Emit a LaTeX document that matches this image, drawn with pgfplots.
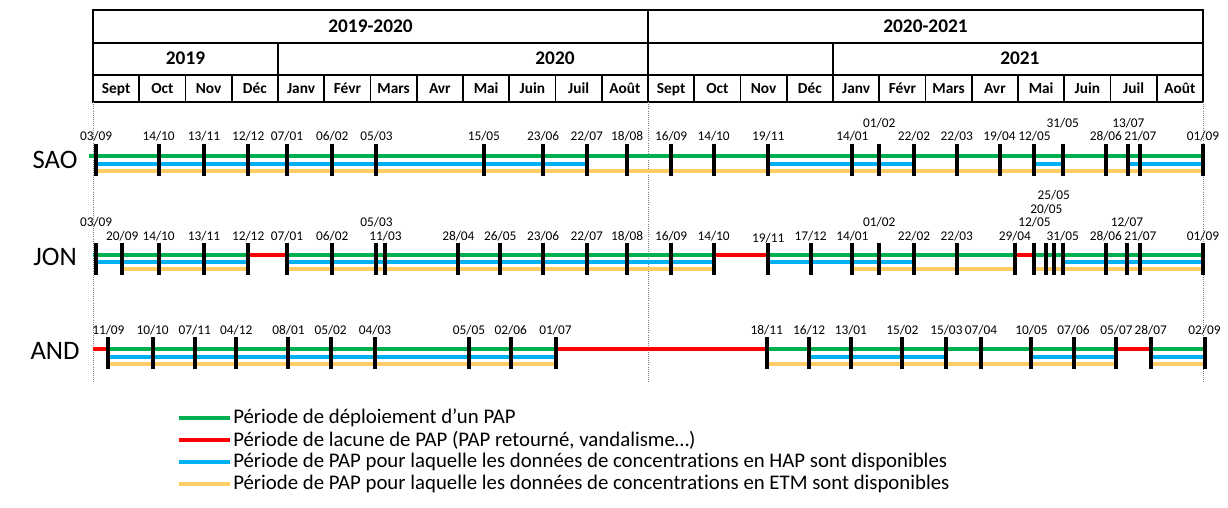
\documentclass[border=0pt]{standalone}
\usepackage{pgfplots}
\usepackage{pgfplotstable}
\pgfplotsset{compat=1.18}
\usepackage{fontspec}
\setmainfont[Ligatures=NoCommon]{Carlito}

\definecolor{cgreen}{RGB}{0,176,80}
\definecolor{cred}{RGB}{255,0,0}
\definecolor{cblue}{RGB}{0,176,240}
\definecolor{corange}{RGB}{255,204,102}

% x = months since 1 Sept 2019 (day fraction within month)
\pgfplotstableread{
x ly lab
0.067 136 03/09
1.419 136 14/10
2.400 136 13/11
3.355 136 12/12
4.194 136 07/01
5.172 136 06/02
6.129 136 05/03
8.452 136 15/05
9.733 136 23/06
10.677 136 22/07
11.548 136 18/08
12.500 136 16/09
13.419 136 14/10
14.600 136 19/11
16.419 136 14/01
17.000 123 01/02
17.750 136 22/02
18.677 136 22/03
19.600 136 19/04
20.355 136 12/05
20.968 123 31/05
21.900 136 28/06
22.387 123 13/07
22.645 136 21/07
24.000 136 01/09
}\saoticks

\pgfplotstableread{
x ly lab
0.067 222 03/09
0.633 236 20/09
1.419 236 14/10
2.400 236 13/11
3.355 236 12/12
4.194 236 07/01
5.172 236 06/02
6.129 222 05/03
6.323 236 11/03
7.900 236 28/04
8.806 236 26/05
9.733 236 23/06
10.677 236 22/07
11.548 236 18/08
12.500 236 16/09
13.419 236 14/10
14.600 238 19/11
15.516 236 17/12
16.419 236 14/01
17.000 222 01/02
17.750 236 22/02
18.677 236 22/03
19.933 236 29/04
20.355 222 12/05
20.613 209 20/05
20.774 195 25/05
20.968 236 31/05
21.900 236 28/06
22.355 222 12/07
22.645 236 21/07
24.000 236 01/09
}\jonticks

\pgfplotstableread{
x ly lab
0.333 330 11/09
1.290 330 10/10
2.200 330 07/11
3.097 330 04/12
4.226 330 08/01
5.138 330 05/02
6.097 330 04/03
8.129 330 05/05
9.033 330 02/06
10.000 330 01/07
14.567 330 18/11
15.484 330 16/12
16.387 330 13/01
17.500 330 15/02
18.452 330 15/03
19.200 330 07/04
20.290 330 10/05
21.200 330 07/06
22.129 330 05/07
22.871 330 28/07
24.033 330 02/09
}\andticks

\begin{document}
\begin{tikzpicture}
\begin{axis}[
  scale only axis, width=921pt, height=380.25pt,
  xmin=-2.0108, xmax=24.5405, ymin=0, ymax=507, y dir=reverse,
  hide axis, clip=false, unbounded coords=jump,
  every axis plot/.append style={line width=3pt, line cap=butt},
]
\path (rel axis cs:0,0) rectangle (rel axis cs:1,1);

% ---- header ----
\draw[line width=1.4pt] (axis cs:0,10) rectangle (axis cs:24,102);
\draw[line width=1.4pt] (axis cs:0,43) -- (axis cs:24,43);
\draw[line width=1.4pt] (axis cs:0,75) -- (axis cs:24,75);
\draw[line width=1.4pt] (axis cs:12,10) -- (axis cs:12,102);
\draw[line width=1.4pt] (axis cs:4,43) -- (axis cs:4,102);
\draw[line width=1.4pt] (axis cs:16,43) -- (axis cs:16,102);
\pgfplotsinvokeforeach{1,2,3,5,6,7,8,9,10,11,13,14,15,17,18,19,20,21,22,23}{
  \draw[line width=1.4pt] (axis cs:#1,75) -- (axis cs:#1,102);
}
\tikzset{hlab/.style={font=\bfseries\fontsize{14.5}{16}\selectfont, anchor=base}}
\node[hlab] at (axis cs:6,32.5) {2019-2020};
\node[hlab] at (axis cs:18,32.5) {2020-2021};
\node[hlab] at (axis cs:2,64.5) {2019};
\node[hlab] at (axis cs:9.99,64.5) {2020};
\node[hlab] at (axis cs:20.04,64.5) {2021};
\tikzset{mlab/.style={font=\bfseries\fontsize{11.5}{13}\selectfont, anchor=base}}
\node[mlab] at (axis cs:0.5,93) {Sept};
\node[mlab] at (axis cs:1.5,93) {Oct};
\node[mlab] at (axis cs:2.5,93) {Nov};
\node[mlab] at (axis cs:3.5,93) {Déc};
\node[mlab] at (axis cs:4.5,93) {Janv};
\node[mlab] at (axis cs:5.5,93) {Févr};
\node[mlab] at (axis cs:6.5,93) {Mars};
\node[mlab] at (axis cs:7.5,93) {Avr};
\node[mlab] at (axis cs:8.5,93) {Mai};
\node[mlab] at (axis cs:9.5,93) {Juin};
\node[mlab] at (axis cs:10.5,93) {Juil};
\node[mlab] at (axis cs:11.5,93) {Août};
\node[mlab] at (axis cs:12.5,93) {Sept};
\node[mlab] at (axis cs:13.5,93) {Oct};
\node[mlab] at (axis cs:14.5,93) {Nov};
\node[mlab] at (axis cs:15.5,93) {Déc};
\node[mlab] at (axis cs:16.5,93) {Janv};
\node[mlab] at (axis cs:17.5,93) {Févr};
\node[mlab] at (axis cs:18.5,93) {Mars};
\node[mlab] at (axis cs:19.5,93) {Avr};
\node[mlab] at (axis cs:20.5,93) {Mai};
\node[mlab] at (axis cs:21.5,93) {Juin};
\node[mlab] at (axis cs:22.5,93) {Juil};
\node[mlab] at (axis cs:23.5,93) {Août};
% dotted separators
\draw[gray, densely dotted, line width=0.6pt] (axis cs:0,102) -- (axis cs:0,383);
\draw[gray, densely dotted, line width=0.6pt] (axis cs:12,102) -- (axis cs:12,383);
\draw[gray, densely dotted, line width=0.6pt] (axis cs:24,102) -- (axis cs:24,383);

% station names
\node[font=\fontsize{20}{24}\selectfont] at (axis cs:-0.82,160) {SAO};
\node[font=\fontsize{20}{24}\selectfont] at (axis cs:-0.82,257) {JON};
\node[font=\fontsize{20}{24}\selectfont] at (axis cs:-0.82,351) {AND};

% ---- SAO ----
\addplot[cgreen] coordinates {(-0.08,156) (24,156)};
\addplot[cblue] coordinates {(0.067,164) (10.677,164) (12,nan) (14.6,164) (17.75,164) (19,nan) (20.355,164) (20.968,164) (21,nan) (22.387,164) (24,164)};
\addplot[corange] coordinates {(0.067,171) (24,171)};

% ---- JON ----
\addplot[cgreen] coordinates {(0,255) (3.355,255) (3.5,nan) (4.194,255) (13.419,255) (14,nan) (14.6,255) (19.933,255) (20,nan) (20.355,255) (24,255)};
\addplot[cred] coordinates {(3.355,255) (4.194,255) (5,nan) (13.419,255) (14.6,255) (15,nan) (19.933,255) (20.355,255)};
\addplot[cblue] coordinates {(0.067,262) (3.355,262) (3.5,nan) (4.194,262) (13.419,262) (14,nan) (14.6,262) (17.75,262) (18,nan) (20.968,262) (24,262)};
\addplot[corange] coordinates {(0.633,269) (3.355,269) (3.5,nan) (4.194,269) (13.419,269) (14,nan) (16.419,269) (19.933,269) (20,nan) (20.355,269) (24,269)};

% ---- AND ----
\addplot[cgreen] coordinates {(0.333,349) (10,349) (11,nan) (14.567,349) (22.129,349) (22.5,nan) (22.871,349) (24.033,349)};
\addplot[cred] coordinates {(0,349) (0.333,349) (1,nan) (10,349) (14.567,349) (15,nan) (22.129,349) (22.871,349)};
\addplot[cblue] coordinates {(0.333,357) (10,357) (11,nan) (15.484,357) (18.452,357) (19,nan) (20.29,357) (22.129,357) (22.5,nan) (22.871,357) (24.033,357)};
\addplot[corange] coordinates {(0.333,364) (10,364) (11,nan) (14.567,364) (22.129,364) (22.5,nan) (22.871,364) (24.033,364)};

% ---- tick bars (vertical segments of 32 px) ----
\addplot[black, line width=3pt, mark=none, -, quiver={u=0, v=32}] table[x=x, y expr=144] {\saoticks};
\addplot[black, line width=3pt, mark=none, -, quiver={u=0, v=32}] table[x=x, y expr=243] {\jonticks};
\addplot[black, line width=3pt, mark=none, -, quiver={u=0, v=32}] table[x=x, y expr=337] {\andticks};

% ---- date labels ----
\addplot[only marks, mark=none, nodes near coords, point meta=explicit symbolic,
  every node near coord/.append style={anchor=center, font=\fontsize{10}{11}\selectfont, text=black, inner sep=0pt}]
  table[x=x, y=ly, meta=lab] {\saoticks};
\addplot[only marks, mark=none, nodes near coords, point meta=explicit symbolic,
  every node near coord/.append style={anchor=center, font=\fontsize{10}{11}\selectfont, text=black, inner sep=0pt}]
  table[x=x, y=ly, meta=lab] {\jonticks};
\addplot[only marks, mark=none, nodes near coords, point meta=explicit symbolic,
  every node near coord/.append style={anchor=center, font=\fontsize{10}{11}\selectfont, text=black, inner sep=0pt}]
  table[x=x, y=ly, meta=lab] {\andticks};

% ---- legend ----
\draw[cgreen, line width=3pt] (axis cs:1.85,418) -- (axis cs:2.97,418);
\draw[cred, line width=3pt] (axis cs:1.85,440) -- (axis cs:2.97,440);
\draw[cblue, line width=3pt] (axis cs:1.85,462) -- (axis cs:2.97,462);
\draw[corange, line width=3pt] (axis cs:1.85,484) -- (axis cs:2.97,484);
\tikzset{llab/.style={anchor=west, inner sep=0pt, font=\fontsize{15.6}{18}\selectfont}}
\node[llab] at (axis cs:3.027,418) {Période de déploiement d’un PAP};
\node[llab] at (axis cs:3.027,440) {Période de lacune de PAP (PAP retourné, vandalisme…)};
\node[llab] at (axis cs:3.027,462) {Période de PAP pour laquelle les données de concentrations en HAP sont disponibles};
\node[llab] at (axis cs:3.027,484) {Période de PAP pour laquelle les données de concentrations en ETM sont disponibles};
\end{axis}
\end{tikzpicture}
\end{document}
